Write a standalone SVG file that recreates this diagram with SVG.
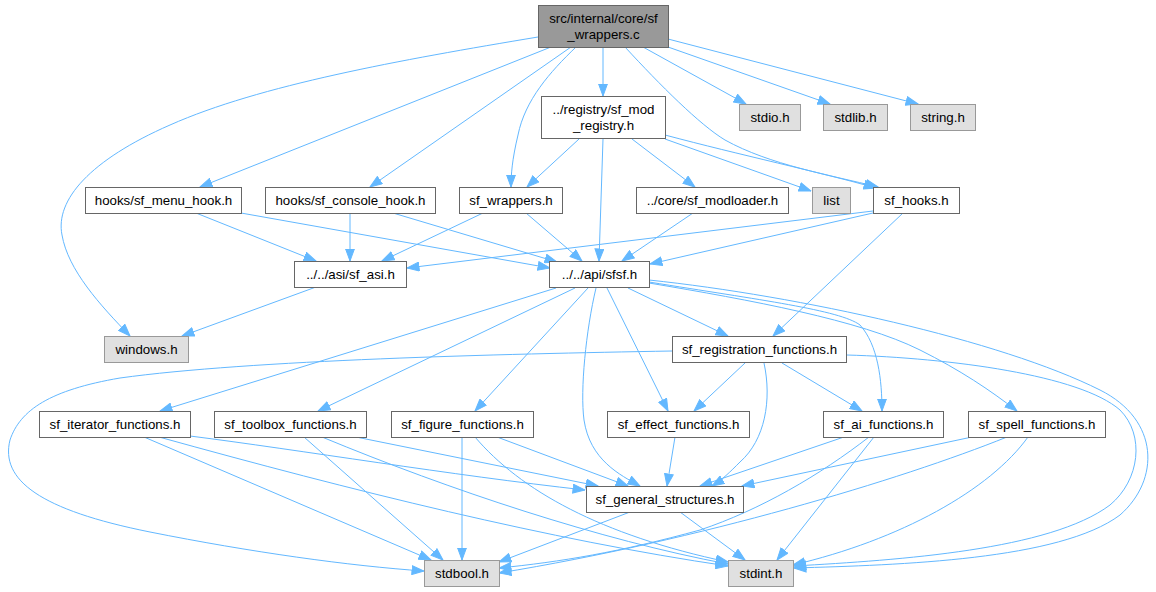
<svg xmlns="http://www.w3.org/2000/svg" width="1156" height="592" viewBox="0 0 1156 592">
<style>
.n rect{fill:#ffffff;stroke:#666666;stroke-width:1}
.g rect{fill:#e0e0e0;stroke:#999999;stroke-width:1}
.r rect{fill:#999999;stroke:#666666;stroke-width:1}
text{font-family:"Liberation Sans",Arial,sans-serif;font-size:13.3px;fill:#000000;text-anchor:middle}
#edges path{fill:none;stroke:#63b8ff;stroke-width:1;marker-end:url(#arr)}
</style>
<defs>
<marker id="arr" markerUnits="userSpaceOnUse" markerWidth="13" markerHeight="10" refX="12.5" refY="5" orient="auto" viewBox="0 0 13 10"><path d="M0.5,0.6 L12.5,5 L0.5,9.4 z" fill="#63b8ff" stroke="#63b8ff" stroke-width="1"/></marker>
</defs>
<rect width="1156" height="592" fill="#ffffff"/>
<g id="edges">
<path d="M538,37 C400,60 260,85 170,125 C90,160 55,200 62,235 C68,270 100,305 130,336"/>
<path d="M551,47 L200,187"/>
<path d="M571,47 L370,187"/>
<path d="M576,47 C550,72 525,100 518,135 C512,160 511,175 511,187"/>
<path d="M603,47 L603,96"/>
<path d="M625,47 C660,85 700,125 725,140 C770,165 830,175 878,187"/>
<path d="M643,47 L746,104"/>
<path d="M668,47 L830,104"/>
<path d="M668,39 L918,104"/>
<path d="M579,139 L527,187"/>
<path d="M603,139 L599,261"/>
<path d="M632,139 L695,187"/>
<path d="M665,139 L811,191"/>
<path d="M665,135 C740,155 820,172 876,188"/>
<path d="M196,213 L316,261"/>
<path d="M241,213 L550,268"/>
<path d="M350,213 L350,261"/>
<path d="M393,213 L557,262"/>
<path d="M483,213 L382,261"/>
<path d="M526,213 L582,261"/>
<path d="M693,213 L622,261"/>
<path d="M873,211 L407,268"/>
<path d="M873,213 L650,264"/>
<path d="M903,213 L773,336"/>
<path d="M316,287 L182,336"/>
<path d="M556,288 L160,411"/>
<path d="M575,288 L318,411"/>
<path d="M588,288 L475,411"/>
<path d="M596,288 C586,330 580,390 584,420 C590,460 620,475 640,486"/>
<path d="M607,288 L668,411"/>
<path d="M628,288 L728,336"/>
<path d="M649,282 C760,300 840,310 860,325 C878,345 882,380 882,411"/>
<path d="M649,283 C750,300 860,320 920,350 C960,370 990,390 1017,411"/>
<path d="M649,280 C800,296 1000,340 1100,390 C1160,420 1160,480 1120,515 C1060,560 900,565 794,568"/>
<path d="M672,351 C500,354 250,360 120,378 C50,390 20,410 10,440 C0,480 40,510 150,532 C250,552 350,566 424,571"/>
<path d="M745,363 L694,411"/>
<path d="M764,363 C772,400 765,440 740,462 C730,472 722,480 712,486"/>
<path d="M782,363 L862,411"/>
<path d="M847,355 C950,358 1080,375 1120,410 C1145,435 1140,480 1110,505 C1050,550 900,560 794,566"/>
<path d="M144,437 L431,560"/>
<path d="M159,437 C350,490 550,540 728,566"/>
<path d="M190,436 C300,450 450,475 585,490"/>
<path d="M304,437 L443,560"/>
<path d="M356,437 L598,486"/>
<path d="M322,437 C450,490 600,540 728,564"/>
<path d="M462,437 L462,560"/>
<path d="M475,437 C520,490 600,535 728,562"/>
<path d="M497,437 L628,486"/>
<path d="M675,437 L667,486"/>
<path d="M844,437 L700,486"/>
<path d="M869,437 C820,475 760,510 700,530 C620,552 560,562 499,568"/>
<path d="M874,437 L777,560"/>
<path d="M972,437 L742,486"/>
<path d="M1007,437 C900,480 700,540 499,573"/>
<path d="M1028,437 C990,490 900,540 793,565"/>
<path d="M630,512 L499,562"/>
<path d="M680,512 L745,560"/>
</g>
<g id="root" class="r"><rect x="538.5" y="5.5" width="130" height="42"/><text x="603.5" y="23">src/internal/core/sf</text><text x="603.5" y="39">_wrappers.c</text></g>
<g id="mod_registry" class="n"><rect x="541.5" y="96.5" width="124" height="42"/><text x="603.5" y="114">../registry/sf_mod</text><text x="603.5" y="130">_registry.h</text></g>
<g id="stdio" class="g"><rect x="739.5" y="104.5" width="61" height="26"/><text x="770" y="122">stdio.h</text></g>
<g id="stdlib" class="g"><rect x="823.5" y="104.5" width="64" height="26"/><text x="855.5" y="122">stdlib.h</text></g>
<g id="string" class="g"><rect x="910.5" y="104.5" width="65" height="26"/><text x="943" y="122">string.h</text></g>
<g id="menu_hook" class="n"><rect x="85.5" y="187.5" width="156" height="26"/><text x="163.5" y="205">hooks/sf_menu_hook.h</text></g>
<g id="console_hook" class="n"><rect x="265.5" y="187.5" width="170" height="26"/><text x="350.5" y="205">hooks/sf_console_hook.h</text></g>
<g id="wrappers_h" class="n"><rect x="459.5" y="187.5" width="103" height="26"/><text x="511" y="205">sf_wrappers.h</text></g>
<g id="modloader" class="n"><rect x="636.5" y="187.5" width="152" height="26"/><text x="712.5" y="205">../core/sf_modloader.h</text></g>
<g id="list" class="g"><rect x="812.5" y="187.5" width="38" height="26"/><text x="831.5" y="205">list</text></g>
<g id="hooks" class="n"><rect x="873.5" y="187.5" width="86" height="26"/><text x="916.5" y="205">sf_hooks.h</text></g>
<g id="asi" class="n"><rect x="294.5" y="261.5" width="112" height="26"/><text x="350.5" y="279">../../asi/sf_asi.h</text></g>
<g id="sfsf" class="n"><rect x="549.5" y="261.5" width="100" height="26"/><text x="599.5" y="279">../../api/sfsf.h</text></g>
<g id="windows" class="g"><rect x="104.5" y="336.5" width="84" height="26"/><text x="146.5" y="354">windows.h</text></g>
<g id="registration" class="n"><rect x="672.5" y="336.5" width="174" height="26"/><text x="759.5" y="354">sf_registration_functions.h</text></g>
<g id="iterator" class="n"><rect x="39.5" y="411.5" width="151" height="26"/><text x="115" y="429">sf_iterator_functions.h</text></g>
<g id="toolbox" class="n"><rect x="214.5" y="411.5" width="152" height="26"/><text x="290.5" y="429">sf_toolbox_functions.h</text></g>
<g id="figure" class="n"><rect x="391.5" y="411.5" width="142" height="26"/><text x="462.5" y="429">sf_figure_functions.h</text></g>
<g id="effect" class="n"><rect x="607.5" y="411.5" width="142" height="26"/><text x="678.5" y="429">sf_effect_functions.h</text></g>
<g id="ai" class="n"><rect x="823.5" y="411.5" width="120" height="26"/><text x="883.5" y="429">sf_ai_functions.h</text></g>
<g id="spell" class="n"><rect x="968.5" y="411.5" width="137" height="26"/><text x="1037" y="429">sf_spell_functions.h</text></g>
<g id="general" class="n"><rect x="586.5" y="486.5" width="157" height="26"/><text x="665" y="504">sf_general_structures.h</text></g>
<g id="stdbool" class="g"><rect x="424.5" y="560.5" width="75" height="26"/><text x="462" y="578">stdbool.h</text></g>
<g id="stdint" class="g"><rect x="728.5" y="560.5" width="65" height="26"/><text x="761" y="578">stdint.h</text></g>
</svg>
